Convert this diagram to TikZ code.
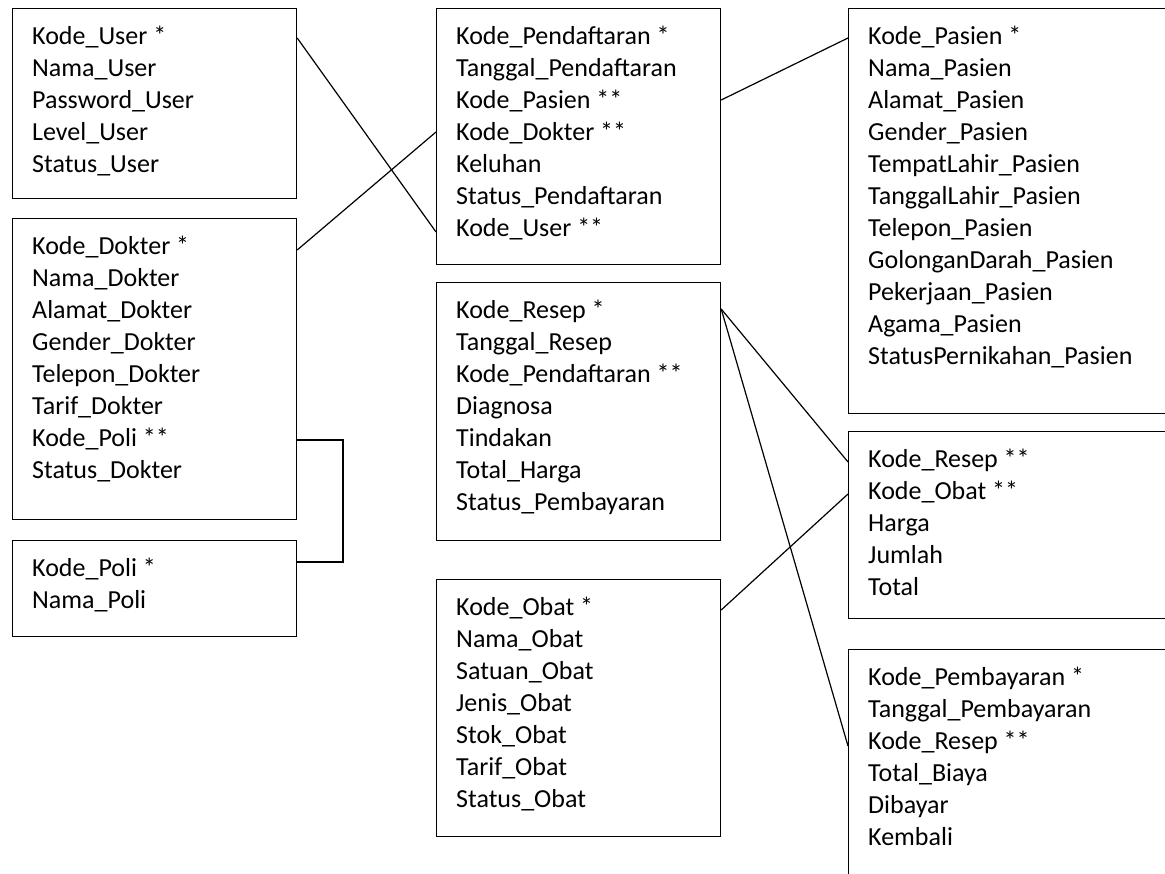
\documentclass[tikz,border=0pt]{standalone}
\usepackage{fontspec}
\setmainfont{Carlito}

\tikzset{
  tabel/.style={draw, line width=1.2pt, anchor=north west, inner sep=0pt},
  isi/.style={anchor=north west, align=left, inner sep=0pt, font=\fontsize{26}{32}\selectfont}
}

\begin{document}
\begin{tikzpicture}[x=1pt, y=-1pt]
\useasboundingbox (0,0) rectangle (1165,874);
\clip (0,0) rectangle (1165,874);
% tabel kiri
\node[tabel, minimum width=284, minimum height=190] (node_user) at (12,8) {};
\node[tabel, minimum width=284, minimum height=301] (node_dokter) at (12,218) {};
\node[tabel, minimum width=284, minimum height=96] (node_poli) at (12,540) {};
% tabel tengah
\node[tabel, minimum width=284, minimum height=256] (node_daftar) at (436,8) {};
\node[tabel, minimum width=284, minimum height=258] (node_resep) at (436,282) {};
\node[tabel, minimum width=284, minimum height=257] (node_obat) at (436,579) {};
% tabel kanan (terpotong)
\node[tabel, minimum width=400, minimum height=405] (node_pasien) at (848,8) {};
\node[tabel, minimum width=400, minimum height=187] (node_detail) at (848,431) {};
\node[tabel, minimum width=400, minimum height=300] (node_bayar) at (848,649) {};

\node[isi] (text_user) at ([shift={(20,18)}]node_user.north west)
  {Kode\_User *\\Nama\_User\\Password\_User\\Level\_User\\Status\_User};
\node[isi] (text_dokter) at ([shift={(20,18)}]node_dokter.north west)
  {Kode\_Dokter *\\Nama\_Dokter\\Alamat\_Dokter\\Gender\_Dokter\\Telepon\_Dokter\\Tarif\_Dokter\\Kode\_Poli **\\Status\_Dokter};
\node[isi] (text_poli) at ([shift={(20,18)}]node_poli.north west)
  {Kode\_Poli *\\Nama\_Poli};
\node[isi] (text_daftar) at ([shift={(20,18)}]node_daftar.north west)
  {Kode\_Pendaftaran *\\Tanggal\_Pendaftaran\\Kode\_Pasien **\\Kode\_Dokter **\\Keluhan\\Status\_Pendaftaran\\Kode\_User **};
\node[isi] (text_resep) at ([shift={(20,18)}]node_resep.north west)
  {Kode\_Resep *\\Tanggal\_Resep\\Kode\_Pendaftaran **\\Diagnosa\\Tindakan\\Total\_Harga\\Status\_Pembayaran};
\node[isi] (text_obat) at ([shift={(20,18)}]node_obat.north west)
  {Kode\_Obat *\\Nama\_Obat\\Satuan\_Obat\\Jenis\_Obat\\Stok\_Obat\\Tarif\_Obat\\Status\_Obat};
\node[isi] (text_pasien) at ([shift={(20,18)}]node_pasien.north west)
  {Kode\_Pasien *\\Nama\_Pasien\\Alamat\_Pasien\\Gender\_Pasien\\TempatLahir\_Pasien\\TanggalLahir\_Pasien\\Telepon\_Pasien\\GolonganDarah\_Pasien\\Pekerjaan\_Pasien\\Agama\_Pasien\\StatusPernikahan\_Pasien};
\node[isi] (text_detail) at ([shift={(20,18)}]node_detail.north west)
  {Kode\_Resep **\\Kode\_Obat **\\Harga\\Jumlah\\Total};
\node[isi] (text_bayar) at ([shift={(20,18)}]node_bayar.north west)
  {Kode\_Pembayaran *\\Tanggal\_Pembayaran\\Kode\_Resep **\\Total\_Biaya\\Dibayar\\Kembali};

% relasi
\draw[line width=1.2pt] (node_user.east |- 0,38) -- (node_daftar.west |- 0,232);
\draw[line width=1.2pt] (node_dokter.east |- 0,250) -- (node_daftar.west |- 0,132);
\draw[line width=1.2pt] (node_daftar.east |- 0,100) -- (node_pasien.west |- 0,38);
\draw[line width=1.2pt] (node_resep.east |- 0,309) -- (node_detail.west |- 0,462);
\draw[line width=1.2pt] (node_resep.east |- 0,309) -- (node_bayar.west |- 0,746);
\draw[line width=1.2pt] (node_obat.east |- 0,610) -- (node_detail.west |- 0,494);
\draw[line width=1.2pt] (node_dokter.east |- 0,440) -| (343,562) -- (node_poli.east |- 0,562);
\end{tikzpicture}
\end{document}
